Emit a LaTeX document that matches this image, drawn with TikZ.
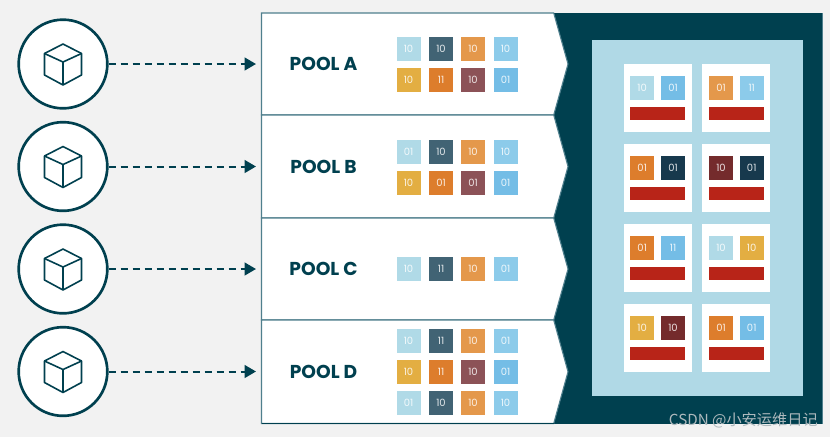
\documentclass[tikz,border=0pt]{standalone}
\usepackage{fontspec}
\setmainfont{Poppins}
\newfontfamily\cjkwm{Noto Sans CJK SC}[Scale=1]
\newfontfamily\poolfont{Poppins}[UprightFont=* Bold,BoldFont=* Bold]
\usetikzlibrary{arrows.meta}
\definecolor{pagebg}{HTML}{F2F2F2}
\definecolor{deep}{HTML}{00404F}
\definecolor{edge}{HTML}{4F7F8D}
\definecolor{panel}{HTML}{B0D9E6}
\definecolor{lt}{HTML}{B0DAE7}
\definecolor{sl}{HTML}{416374}
\definecolor{og}{HTML}{E4984B}
\definecolor{sk}{HTML}{8CCBEA}
\definecolor{ye}{HTML}{E3AE42}
\definecolor{or}{HTML}{DD7D2C}
\definecolor{ma}{HTML}{8C5257}
\definecolor{bl}{HTML}{74BDE6}
\definecolor{na}{HTML}{17394D}
\definecolor{dr}{HTML}{742B2C}
\definecolor{rd}{HTML}{B82418}
\definecolor{wm}{HTML}{AEB9BD}
\tikzset{
  x=0.75pt,y=-0.75pt,
  host/.style={circle,draw=deep,fill=white,line width=2pt,minimum size=66.5pt,inner sep=0pt},
  cubeline/.style={draw=deep,line width=1.2pt,line join=round},
  flow/.style={draw=deep,line width=1.5pt,dash pattern=on 5.6pt off 3.4pt,-{Triangle[length=8.5pt,width=9.5pt]}},
  chev/.style={fill=white,draw=edge,line width=0.8pt},
  poollabel/.style={text=deep,font=\poolfont\fontsize{14}{14}\selectfont,inner sep=0pt},
  bit/.style={minimum size=18pt,inner sep=0pt,text=white,font=\fontsize{7.5}{7.5}\selectfont,text opacity=0.85},
  card/.style={fill=white,minimum size=51pt,inner sep=0pt},
  bar/.style={fill=rd,minimum width=41pt,minimum height=10pt,inner sep=0pt},
}
\begin{document}
\begin{tikzpicture}
\useasboundingbox[fill=pagebg] (0,0) rectangle (830,437);
% right dark block
\fill[deep] (261.5,13) rectangle (822.5,423.5);
\draw[edge,line width=0.6pt] (822.5,13) -- (822.5,423.5);
% pool rows
\foreach \t/\b in {13/115,115/218,218/320,320/423.5}{
  \pgfmathsetmacro\m{(\t+\b)/2}
  \path[chev] (553.7,\b) -- (261.5,\b) -- (261.5,\t) -- (553.7,\t) -- (568,\m) -- cycle;
}
\draw[deep,line width=0.9pt] (261.5,423.5) -- (553.7,423.5);
% hosts
\foreach \n/\y/\l/\tx in {1/64/A/POOL A,2/166.5/B/POOL B,3/269/C/POOL C,4/371.5/D/POOL D}{
  \node[host] (h\n) at (63,\y) {};
  \begin{scope}[shift={(63,\y)}]
    \path[cubeline] (0,-20) -- (18.5,-10.5) -- (18.5,11) -- (0,21) -- (-18.5,11) -- (-18.5,-10.5) -- cycle;
    \path[cubeline] (-18.5,-10.5) -- (0,-2) -- (18.5,-10.5);
    \path[cubeline] (0,-2) -- (0,21);
  \end{scope}
  \coordinate (in\n) at (256,\y);
  \draw[flow] (h\n) -- (in\n);
  \node[poollabel] (p\l) at (323.5,\y) {\tx};
}
% pool bits
\foreach \n/\x/\y/\c/\s in {
 a1/408.5/49/lt/10,a2/441/49/sl/10,a3/473/49/og/10,a4/505.5/49/sk/10,
 a5/408.5/80/ye/10,a6/441/80/or/11,a7/473/80/ma/10,a8/505.5/80/bl/01,
 b1/408.5/151.5/lt/01,b2/441/151.5/sl/10,b3/473/151.5/og/10,b4/505.5/151.5/sk/10,
 b5/408.5/182.5/ye/10,b6/441/182.5/or/01,b7/473/182.5/ma/01,b8/505.5/182.5/bl/01,
 c1/408.5/269.3/lt/10,c2/441/269.3/sl/11,c3/473/269.3/og/10,c4/505.5/269.3/sk/01,
 d1/408.5/340.7/lt/10,d2/441/340.7/sl/11,d3/473/340.7/og/10,d4/505.5/340.7/sk/01,
 d5/408.5/371.7/ye/10,d6/441/371.7/or/11,d7/473/371.7/ma/10,d8/505.5/371.7/bl/01,
 d9/408.5/403/lt/01,d10/441/403/sl/10,d11/473/403/og/10,d12/505.5/403/sk/10}{
  \node[bit,fill=\c] (\n) at (\x,\y) {\s};
}
% panel
\fill[panel] (591.5,40) rectangle (802.7,396);
% cards
\foreach \n/\x/\y in {1/657.7/98.2,2/736.3/98.2,3/657.7/178.2,4/736.3/178.2,5/657.7/258.2,6/736.3/258.2,7/657.7/338,8/736.3/338}{
  \node[card] (card\n) at (\x,\y) {};
  \node[bar] (bar\n) at (\x,\y+15.3) {};
}
\foreach \n/\x/\y/\c/\s in {
 k1/642.2/88.3/lt/10,k2/673/88.3/bl/01,k3/721/88.3/og/01,k4/751.7/88.3/sk/11,
 k5/642.2/168.3/or/01,k6/673/168.3/na/01,k7/721/168.3/dr/10,k8/751.7/168.3/na/01,
 k9/642.2/248.3/or/01,k10/673/248.3/bl/11,k11/721/248.3/lt/10,k12/751.7/248.3/ye/10,
 k13/642.2/328/ye/10,k14/673/328/dr/10,k15/721/328/or/01,k16/751.7/328/bl/01}{
  \node[bit,fill=\c] (\n) at (\x,\y) {\s};
}
% watermark
\node[anchor=east,inner sep=0pt,text=wm,font=\cjkwm\fontsize{11.4}{11.4}\selectfont] (mark) at (818,420) {CSDN @小安运维日记};
\end{tikzpicture}
\end{document}
